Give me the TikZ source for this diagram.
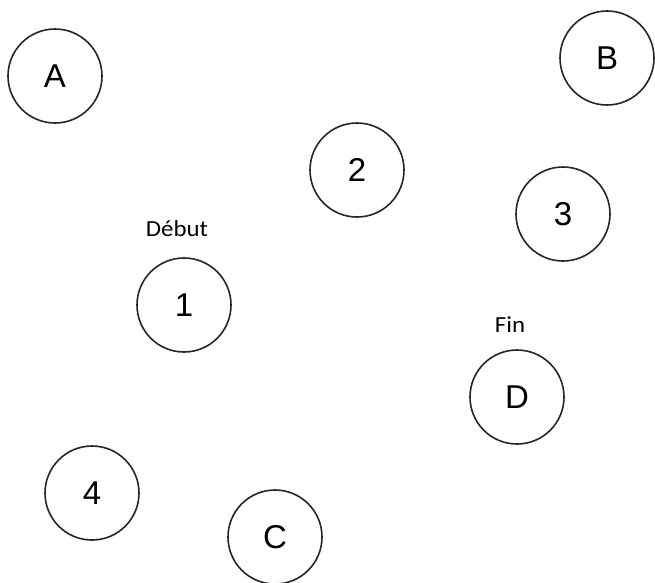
\documentclass[tikz,border=0pt]{standalone}
\usepackage{fontspec}
\setmainfont{Liberation Sans}
\newfontfamily\labelfont[FakeStretch=1.08]{Carlito}
\begin{document}
\begin{tikzpicture}[x=1pt,y=-1pt,
  state/.style={circle,draw=black!85,line width=1.6pt,minimum size=94pt,inner sep=0pt,font=\fontsize{33}{35}\selectfont},
  tag/.style={font=\labelfont\fontsize{23}{25}\selectfont}]
\useasboundingbox (0,0) rectangle (655,582);
\node[state] (A) at (55,76) {A};
\node[state] (B) at (607,58) {B};
\node[state] (n2) at (357,170) {2};
\node[state] (n3) at (563,214) {3};
\node[state] (n1) at (184,305) {1};
\node[state] (D) at (517,397) {D};
\node[state] (n4) at (92,493) {4};
\node[state] (C) at (275,537) {C};
\node[tag] (debut) at (177,229) {Début};
\node[tag] (fin) at (510,325) {Fin};
\end{tikzpicture}
\end{document}
